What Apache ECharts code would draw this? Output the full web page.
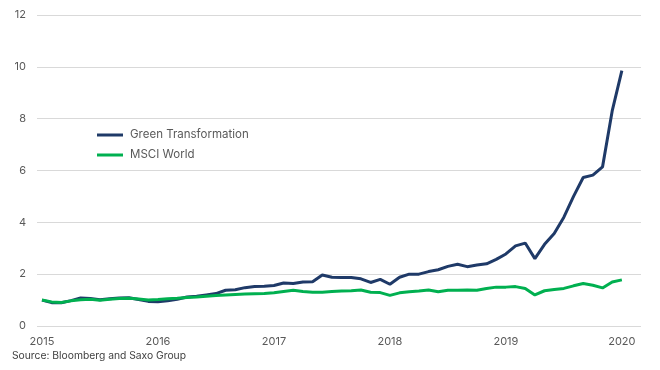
<!DOCTYPE html>
<html>
<head>
<meta charset="utf-8">
<script src="https://cdn.jsdelivr.net/npm/echarts@6/dist/echarts.min.js"></script>
<style>
html,body{margin:0;padding:0;background:#fff;}
#chart{width:660px;height:370px;}
</style>
</head>
<body>
<div id="chart"></div>
<script>
// Monthly observations, Jan 2015 .. Jan 2020
const startYear = 2015;
const yearTicks = [2015, 2016, 2017, 2018, 2019, 2020];
const yTicks = [0, 2, 4, 6, 8, 10, 12];
const greenTransformation = [
  1.0, 0.9, 0.9, 0.98, 1.08, 1.06, 1.01, 1.05, 1.08, 1.09, 1.02, 0.95,
  0.94, 0.97, 1.03, 1.12, 1.15, 1.2, 1.25, 1.38, 1.4, 1.48, 1.52, 1.53,
  1.56, 1.66, 1.64, 1.7, 1.71, 1.97, 1.88, 1.87, 1.87, 1.82, 1.68, 1.8,
  1.61, 1.88, 2.0, 2.0, 2.1, 2.17, 2.3, 2.38, 2.29, 2.35, 2.4, 2.57,
  2.78, 3.09, 3.2, 2.6, 3.15, 3.57, 4.2, 5.0, 5.73, 5.82, 6.14, 8.3,
  9.85
];
const msciWorld = [
  1.0, 0.93, 0.91, 0.97, 1.01, 1.03, 0.99, 1.03, 1.06, 1.07, 1.04, 1.0,
  1.02, 1.05, 1.07, 1.1, 1.12, 1.15, 1.18, 1.2, 1.22, 1.23, 1.24, 1.25,
  1.28, 1.33, 1.38, 1.33, 1.3, 1.3, 1.33, 1.35, 1.36, 1.39, 1.3, 1.29,
  1.18, 1.28, 1.32, 1.35, 1.39, 1.32, 1.38, 1.38, 1.39, 1.38, 1.45, 1.5,
  1.5, 1.52, 1.45, 1.2, 1.36, 1.41, 1.45, 1.55, 1.64, 1.57, 1.47, 1.7,
  1.78
];
const seriesNames = ['Green Transformation', 'MSCI World'];
const sourceText = 'Source: Bloomberg and Saxo Group';

const months = greenTransformation.map((_, i) => startYear + i / 12);
const gtData = months.map((m, i) => [m, greenTransformation[i]]);
const msData = months.map((m, i) => [m, msciWorld[i]]);

const chart = echarts.init(document.getElementById('chart'), null, {renderer: 'canvas'});
const font = 'Inter, "Noto Sans", sans-serif';
chart.setOption({
  animation: false,
  backgroundColor: '#ffffff',
  grid: {left: 37, right: 19, top: 15, bottom: 44, containLabel: false},
  legend: {
    orient: 'vertical',
    left: 92,
    top: 124,
    itemWidth: 26,
    itemHeight: 3,
    itemGap: 8,
    icon: 'rect',
    textStyle: {color: '#595959', fontSize: 11.5, fontFamily: font, padding: [0, 0, 0, 2]},
    data: seriesNames
  },
  graphic: [{
    type: 'text',
    left: 12,
    top: 351,
    style: {text: sourceText, fill: '#404040', font: '10.3px ' + font}
  }],
  xAxis: {
    type: 'value',
    min: 2014.957,
    max: 2020.165,
    axisLine: {show: false},
    axisTick: {show: false},
    splitLine: {show: false},
    axisLabel: {
      customValues: yearTicks,
      formatter: v => String(Math.round(v)),
      color: '#595959',
      fontSize: 11,
      fontFamily: font,
      margin: 10
    }
  },
  yAxis: {
    type: 'value',
    min: 0,
    max: 12,
    interval: 2,
    axisLine: {show: false},
    axisTick: {show: false},
    splitLine: {lineStyle: {color: '#d9d9d9', width: 1}},
    axisLabel: {color: '#595959', fontSize: 11, fontFamily: font, margin: 11,
      customValues: yTicks}
  },
  series: [
    {
      name: seriesNames[0],
      type: 'line',
      data: gtData,
      showSymbol: false,
      symbol: 'none',
      lineStyle: {color: '#1F3A68', width: 3},
      itemStyle: {color: '#1F3A68'},
      z: 3
    },
    {
      name: seriesNames[1],
      type: 'line',
      data: msData,
      showSymbol: false,
      symbol: 'none',
      lineStyle: {color: '#00B050', width: 3},
      itemStyle: {color: '#00B050'},
      z: 4
    }
  ]
});
</script>
</body>
</html>
